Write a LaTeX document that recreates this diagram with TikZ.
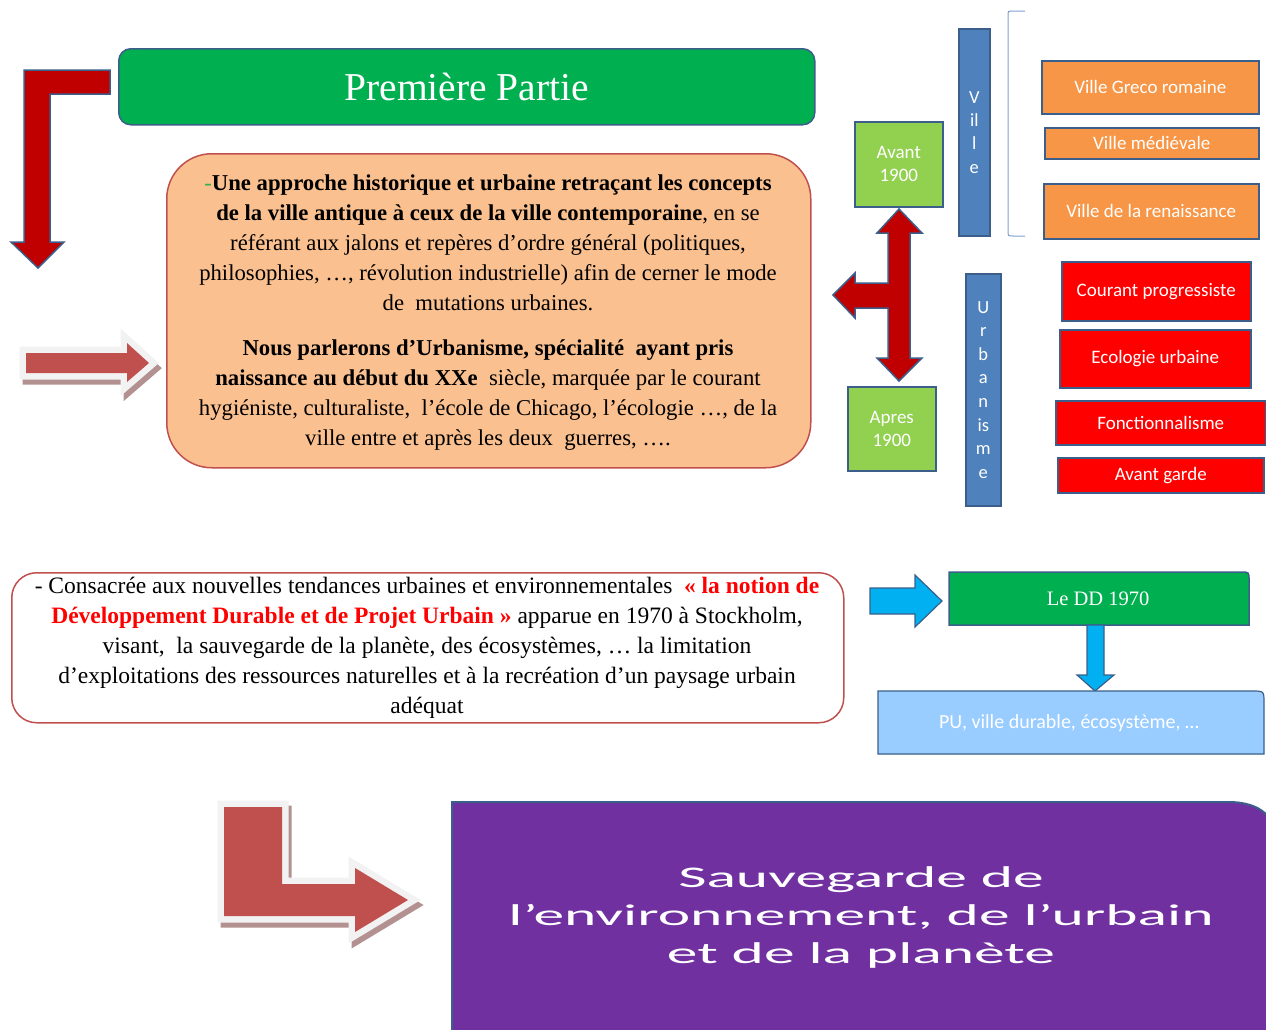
\documentclass[tikz,border=0pt]{standalone}
\usepackage{fontspec}
\setmainfont{Liberation Serif}
\newfontfamily\calfont{Carlito}
\newfontfamily\calwide[FakeStretch=2.05]{Carlito}
\definecolor{tgreen}{HTML}{00B050}
\definecolor{bordblue}{HTML}{3B5F8A}
\definecolor{darkred}{HTML}{C00000}
\definecolor{lorange}{HTML}{FAC08F}
\definecolor{obord}{HTML}{C0504D}
\definecolor{lgreen}{HTML}{92D050}
\definecolor{barblue}{HTML}{4F81BD}
\definecolor{orangebox}{HTML}{F79646}
\definecolor{cyanarr}{HTML}{00B0F0}
\definecolor{lblue}{HTML}{99CCFF}
\definecolor{purplebox}{HTML}{7030A0}
\definecolor{pinkred}{HTML}{C0504D}
\definecolor{outgrey}{HTML}{F2F2F2}
\definecolor{shadowc}{HTML}{B39191}
\definecolor{brackc}{HTML}{7F9FCF}
\definecolor{dashgreen}{HTML}{33B050}
\begin{document}
\begin{tikzpicture}[x=1pt,y=-1pt,
  box/.style={draw=bordblue, line width=1.5pt, inner sep=0pt, text=white, anchor=north west},
  calbox/.style={box, font=\calfont\fontsize{19}{22}\selectfont},
  greensq/.style={box, fill=lgreen, align=center, font=\calfont\fontsize{19}{23}\selectfont},
  vbar/.style={box, fill=barblue, align=center},
  blockarrow/.style={draw=bordblue, line width=1.5pt, fill=darkred, line join=miter},
  cyanarrow/.style={draw=bordblue, line width=1.2pt, fill=cyanarr},
  softarrow/.style={fill=pinkred},
  softoutline/.style={draw=outgrey, line width=13pt, fill=outgrey, line join=miter},
  softshadow/.style={draw=shadowc, line width=13pt, fill=shadowc, line join=miter},
  bodytext/.style={align=center, inner sep=0pt}
]
\clip (0,0) rectangle (1266,1029);
\useasboundingbox (0,0) rectangle (1266,1029);

% ---------- title ----------
\node[box, fill=tgreen, rounded corners=12pt, minimum width=696pt, minimum height=76pt,
      font=\fontsize{39.5}{42}\selectfont] (title) at (118,48) {Première Partie};

% ---------- top-left red bent arrow ----------
\draw[blockarrow] (24,70) -- (110,70) -- (110,94) -- (50,94) -- (50,242) -- (64,242)
      -- (38,268) -- (11,242) -- (24,242) -- cycle;

% ---------- soft right arrow (left middle) ----------
\begin{scope}[shift={(3,5)}]
\draw[softshadow] (26,353) -- (127,353) -- (127,343) -- (149,363) -- (127,382) -- (127,373) -- (26,373) -- cycle;
\end{scope}
\draw[softoutline] (26,353) -- (127,353) -- (127,343) -- (149,363) -- (127,382) -- (127,373) -- (26,373) -- cycle;
\fill[softarrow] (26,353) -- (127,353) -- (127,343) -- (149,363) -- (127,382) -- (127,373) -- (26,373) -- cycle;

% ---------- orange history box ----------
\node[draw=obord, line width=1.5pt, fill=lorange, rounded corners=45pt, minimum width=644pt,
      minimum height=314pt, anchor=north west, inner sep=0pt] (hist) at (166,153) {};
\node[bodytext, font=\fontsize{22.7}{30}\selectfont] (histtext) at (488,313) {%
{\color{dashgreen}-}\textbf{Une approche historique et urbaine retraçant les concepts}\\
\textbf{de la ville antique à ceux de la ville contemporaine}, en se\\
référant aux jalons et repères d’ordre général (politiques,\\
philosophies, …, révolution industrielle) afin de cerner le mode\\
de\ \ mutations urbaines.\\[15pt]
\textbf{Nous parlerons d’Urbanisme, spécialité\ \ ayant pris}\\
\textbf{naissance au début du XXe}\ \ siècle, marquée par le courant\\
hygiéniste, culturaliste,\ \ l’école de Chicago, l’écologie …, de la\\
ville entre et après les deux\ \ guerres, ….};

% ---------- Avant / Apres ----------
\node[greensq, minimum width=88pt, minimum height=85pt] (avant) at (854,121) {Avant\\1900};
\node[greensq, minimum width=88pt, minimum height=84pt] (apres) at (847,386) {Apres\\1900};

% ---------- red double arrow with left branch ----------
\draw[blockarrow] (899,209) -- (922,233) -- (910,233) -- (910,358) -- (922,358) -- (899,381)
      -- (877,358) -- (888,358) -- (888,308) -- (855,308) -- (855,318) -- (833,295)
      -- (855,273) -- (855,283) -- (888,283) -- (888,233) -- (877,233) -- cycle;

% ---------- vertical bars ----------
\node[vbar, minimum width=31pt, minimum height=207pt, font=\calfont\fontsize{18.5}{23.3}\selectfont] (ville) at (958,28) {V\\il\\l\\e};
\node[vbar, minimum width=35pt, minimum height=232pt, font=\calfont\fontsize{18.5}{23.6}\selectfont] (urba) at (965,273) {U\\r\\b\\a\\n\\is\\m\\e};

% ---------- bracket ----------
\draw[brackc, line width=1pt] (1025,11) -- (1013,11) .. controls (1008,11) .. (1008,16)
      -- (1008,231) .. controls (1008,236) .. (1013,236) -- (1025,236);

% ---------- ville boxes ----------
\node[calbox, fill=orangebox, minimum width=217pt, minimum height=53pt] (greco) at (1041,60) {Ville Greco romaine};
\node[calbox, fill=orangebox, minimum width=214pt, minimum height=31pt] (medi) at (1044,127) {Ville médiévale};
\node[calbox, fill=orangebox, minimum width=215pt, minimum height=55pt] (renai) at (1043,183) {Ville de la renaissance};

% ---------- urbanisme boxes ----------
\node[calbox, fill=red, minimum width=189pt, minimum height=59pt] (cour) at (1061,261) {Courant progressiste};
\node[calbox, fill=red, minimum width=191pt, minimum height=58pt] (ecol) at (1059,329) {Ecologie urbaine};
\node[calbox, fill=red, minimum width=210pt, minimum height=44pt] (fonc) at (1055,400) {Fonctionnalisme};
\node[calbox, fill=red, minimum width=206pt, minimum height=35pt] (avg) at (1057,457) {Avant garde};

% ---------- DD box ----------
\node[draw=obord, line width=1.5pt, fill=white, rounded corners=25pt, minimum width=832pt,
      minimum height=150pt, anchor=north west, inner sep=0pt] (ddbox) at (11,572) {};
\node[bodytext, font=\fontsize{23.5}{30}\selectfont] (ddtext) at (427,648) {%
- Consacrée aux nouvelles tendances urbaines et environnementales\ \ {\color{red}\textbf{« la notion de}}\\
{\color{red}\textbf{Développement Durable et de Projet Urbain »}} apparue en 1970 à Stockholm,\\
visant,\ \ la sauvegarde de la planète, des écosystèmes, … la limitation\\
d’exploitations des ressources naturelles et à la recréation d’un paysage urbain\\
adéquat};

% ---------- cyan right arrow ----------
\draw[cyanarrow] (870,588) -- (915,588) -- (915,575) -- (942,601) -- (915,627) -- (915,614) -- (870,614) -- cycle;

% ---------- Le DD 1970 ----------
\draw[draw=bordblue, line width=1.5pt, fill=tgreen] (949,625) -- (949,572) -- (1241,572)
      .. controls (1249,572) .. (1249,580) -- (1249,625) -- cycle;
\node[text=white, font=\fontsize{20.5}{22}\selectfont] (ddlabel) at (1098,599) {Le DD 1970};

% ---------- cyan down arrow ----------
\draw[cyanarrow] (1087,625) -- (1104,625) -- (1104,675) -- (1114,675) -- (1095,691) -- (1077,675) -- (1087,675) -- cycle;

% ---------- PU box ----------
\draw[draw=bordblue, line width=1.2pt, fill=lblue] (878,754) -- (878,691) -- (1252,691)
      .. controls (1264,691) .. (1264,703) -- (1264,754) -- cycle;
\node[text=white, font=\calfont\fontsize{20}{22}\selectfont] (pulabel) at (1069,723) {PU, ville durable, écosystème, …};

% ---------- soft L arrow (bottom) ----------
\begin{scope}[shift={(3,5)}]
\draw[softshadow] (224,807) -- (282,807) -- (282,884) -- (355,884) -- (355,868) -- (408,900)
      -- (355,932) -- (355,916) -- (224,916) -- cycle;
\end{scope}
\draw[softoutline] (224,807) -- (282,807) -- (282,884) -- (355,884) -- (355,868) -- (408,900)
      -- (355,932) -- (355,916) -- (224,916) -- cycle;
\fill[softarrow] (224,807) -- (282,807) -- (282,884) -- (355,884) -- (355,868) -- (408,900)
      -- (355,932) -- (355,916) -- (224,916) -- cycle;

% ---------- purple box ----------
\draw[draw=bordblue, line width=2pt, fill=purplebox] (452,1040) -- (452,802) -- (1228,802)
      .. controls (1262,802) and (1276,818) .. (1280,845) -- (1285,1040) -- cycle;
\node[text=white, align=center, inner sep=0pt, font=\calwide\fontsize{30}{38}\selectfont] (sauve) at (861,917)
  {Sauvegarde de\\l’environnement, de l’urbain\\et de la planète};
\end{tikzpicture}
\end{document}
